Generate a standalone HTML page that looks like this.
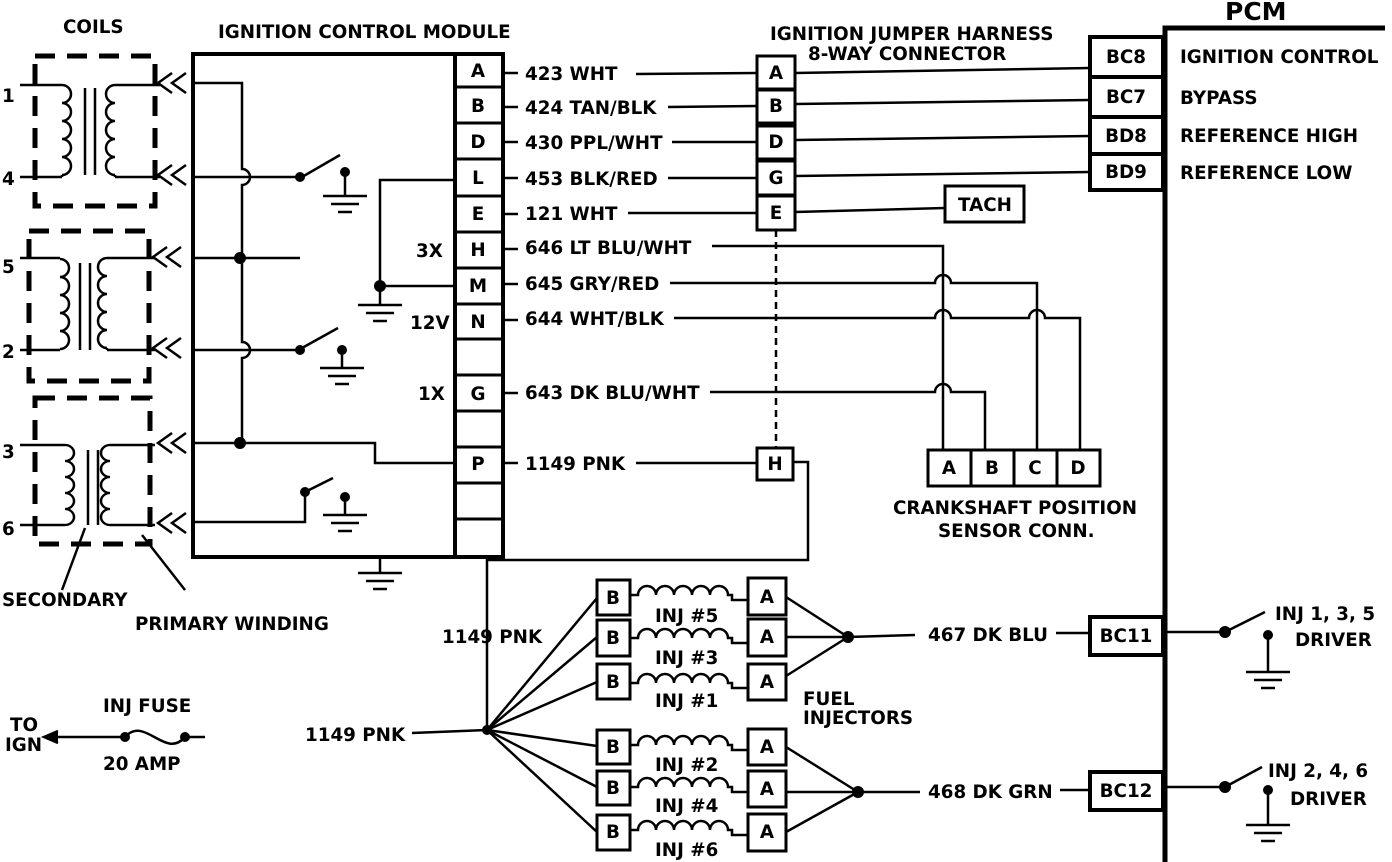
<!DOCTYPE html>
<html><head><meta charset="utf-8"><style>
html,body{margin:0;padding:0;background:#fff}
svg{display:block}
text{font-family:"DejaVu Sans","Liberation Sans",sans-serif;font-weight:bold;font-size:18.3px;fill:#000}
</style></head><body>
<svg width="1392" height="862" viewBox="0 0 1392 862" xmlns="http://www.w3.org/2000/svg">
<defs>
<g id="gnd" stroke="#000" stroke-width="2.5" fill="none"><line x1="-22" y1="0" x2="22" y2="0"/><line x1="-14" y1="8" x2="14" y2="8"/><line x1="-7" y1="16" x2="7" y2="16"/></g>
<g id="chev" stroke="#000" stroke-width="2.5" fill="none"><polyline points="14,-10 0,0 14,10"/><polyline points="28,-10 14,0 28,10"/></g>
<path id="coilL" d="M0,0 a9,9 0 0 1 0,18 a9,9 0 0 1 0,18 a9,9 0 0 1 0,18 a9,9 0 0 1 0,18 a9,9 0 0 1 0,18" fill="none" stroke="#000" stroke-width="2.5"/>
<path id="coilR" d="M0,0 a9,9 0 0 0 0,18 a9,9 0 0 0 0,18 a9,9 0 0 0 0,18 a9,9 0 0 0 0,18 a9,9 0 0 0 0,18" fill="none" stroke="#000" stroke-width="2.5"/>
<path id="inj" d="M0,0 h8 a9,9 0 0 1 18,0 a9,9 0 0 1 18,0 a9,9 0 0 1 18,0 a9,9 0 0 1 18,0 a9,9 0 0 1 18,0 l4,0 v5 h16" fill="none" stroke="#000" stroke-width="2.5"/>
</defs>
<g stroke="#000" fill="none" stroke-width="2.5">
<g stroke-width="5" stroke-dasharray="20,12">
<rect x="35" y="56" width="120" height="150"/>
<rect x="29" y="231" width="120" height="150"/>
<rect x="35" y="398" width="115" height="146"/>
</g>
<line x1="20" y1="85" x2="62" y2="85"/><line x1="20" y1="177" x2="62" y2="177"/>
<use href="#coilL" x="62" y="85"/><line x1="62" y1="175" x2="62" y2="177"/>
<line x1="85" y1="88" x2="85" y2="175"/><line x1="95" y1="88" x2="95" y2="175"/>
<use href="#coilR" x="115" y="85"/><line x1="115" y1="175" x2="115" y2="177"/>
<line x1="115" y1="85" x2="160" y2="85"/><line x1="115" y1="177" x2="160" y2="177"/>
<line x1="20" y1="258" x2="60" y2="258"/><line x1="20" y1="350" x2="60" y2="350"/>
<use href="#coilL" x="60" y="259"/><line x1="60" y1="349" x2="60" y2="350"/>
<line x1="80" y1="263" x2="80" y2="350"/><line x1="90" y1="263" x2="90" y2="350"/>
<use href="#coilR" x="107" y="258"/><line x1="107" y1="348" x2="107" y2="350"/>
<line x1="107" y1="258" x2="155" y2="258"/><line x1="107" y1="350" x2="155" y2="350"/>
<line x1="20" y1="445" x2="65" y2="445"/><line x1="20" y1="525" x2="65" y2="525"/>
<use href="#coilL" transform="translate(65,445) scale(1,0.889)"/>
<line x1="88" y1="450" x2="88" y2="525"/><line x1="98" y1="450" x2="98" y2="525"/>
<use href="#coilR" transform="translate(110,445) scale(1,0.889)"/>
<line x1="110" y1="445" x2="155" y2="445"/><line x1="110" y1="525" x2="155" y2="525"/>
<use href="#chev" x="158" y="83"/><use href="#chev" x="158" y="175"/>
<use href="#chev" x="153" y="257"/><use href="#chev" x="153" y="348"/>
<use href="#chev" x="158" y="443"/><use href="#chev" x="158" y="523"/>
<line x1="85" y1="528" x2="62" y2="590"/><line x1="142" y1="535" x2="185" y2="590"/>
<rect x="193" y="54" width="310" height="503" stroke-width="4"/>
<line x1="455" y1="54" x2="455" y2="557" stroke-width="4"/>
<g stroke-width="3">
<line x1="455" y1="87" x2="503" y2="87"/><line x1="455" y1="123" x2="503" y2="123"/>
<line x1="455" y1="159" x2="503" y2="159"/><line x1="455" y1="196" x2="503" y2="196"/>
<line x1="455" y1="232" x2="503" y2="232"/><line x1="455" y1="268" x2="503" y2="268"/>
<line x1="455" y1="304" x2="503" y2="304"/><line x1="455" y1="339" x2="503" y2="339"/>
<line x1="455" y1="375" x2="503" y2="375"/><line x1="455" y1="411" x2="503" y2="411"/>
<line x1="455" y1="447" x2="503" y2="447"/><line x1="455" y1="483" x2="503" y2="483"/>
<line x1="455" y1="519" x2="503" y2="519"/>
</g>
<line x1="503" y1="73" x2="518" y2="73"/><line x1="503" y1="107" x2="518" y2="107"/>
<line x1="503" y1="142" x2="518" y2="142"/><line x1="503" y1="178" x2="518" y2="178"/>
<line x1="503" y1="214" x2="518" y2="214"/><line x1="503" y1="249" x2="518" y2="249"/>
<line x1="503" y1="284" x2="518" y2="284"/><line x1="503" y1="320" x2="518" y2="320"/>
<line x1="503" y1="393" x2="518" y2="393"/><line x1="503" y1="463" x2="518" y2="463"/>
<path d="M193,83 H242 V169 a8,8 0 0 1 0,16 V342 a8,8 0 0 1 0,16 V443"/>
<line x1="193" y1="177" x2="302" y2="177"/>
<line x1="193" y1="258" x2="300" y2="258"/>
<line x1="193" y1="350" x2="302" y2="350"/>
<path d="M193,443 H375 V463 H455"/>
<path d="M193,522 H305 V490"/>
<path d="M302,177 L340,155"/><path d="M302,348 L338,328"/><path d="M305,492 L333,478"/>
<line x1="345" y1="172" x2="345" y2="196"/><use href="#gnd" x="345" y="196"/>
<line x1="342" y1="350" x2="342" y2="368"/><use href="#gnd" x="342" y="368"/>
<line x1="345" y1="497" x2="345" y2="515"/><use href="#gnd" x="345" y="515"/>
<path d="M455,180 H380 V305"/><line x1="380" y1="286" x2="455" y2="286"/>
<use href="#gnd" x="380" y="305"/>
<line x1="380" y1="557" x2="380" y2="573"/><use href="#gnd" x="380" y="573"/>
<line x1="636" y1="74" x2="757" y2="73"/>
<line x1="668" y1="107" x2="757" y2="106"/>
<line x1="672" y1="142" x2="757" y2="142"/>
<line x1="668" y1="178" x2="757" y2="178"/>
<line x1="628" y1="213" x2="757" y2="213"/>
<g stroke-width="3">
<rect x="757" y="56" width="38" height="33"/><rect x="757" y="90" width="38" height="33"/>
<rect x="757" y="126" width="38" height="33"/><rect x="757" y="161" width="38" height="34"/>
<rect x="757" y="196" width="38" height="34"/>
<rect x="757" y="448" width="36" height="32"/>
</g>
<line x1="776" y1="230" x2="776" y2="448" stroke-dasharray="7,5"/>
<line x1="795" y1="73" x2="1090" y2="68"/>
<line x1="795" y1="104" x2="1090" y2="100"/>
<line x1="795" y1="140" x2="1090" y2="136"/>
<line x1="795" y1="176" x2="1090" y2="172"/>
<line x1="795" y1="212" x2="945" y2="208"/>
<rect x="945" y="186" width="79" height="36" stroke-width="3"/>
<path d="M1165,862 V28 H1385" stroke-width="5"/>
<g stroke-width="4">
<rect x="1090" y="37" width="73" height="153"/>
<line x1="1090" y1="77" x2="1163" y2="77"/><line x1="1090" y1="117" x2="1163" y2="117"/><line x1="1090" y1="154" x2="1163" y2="154"/>
<rect x="1090" y="617" width="73" height="38"/>
<rect x="1090" y="772" width="73" height="38"/>
</g>
<path d="M712,246 H943 V450"/>
<path d="M670,283 H935 a8,8 0 0 1 16,0 H1037 V450"/>
<path d="M674,318 H935 a8,8 0 0 1 16,0 H1029 a8,8 0 0 1 16,0 H1080 V450"/>
<path d="M710,392 H935 a8,8 0 0 1 16,0 H985 V450"/>
<g stroke-width="3">
<rect x="928" y="450" width="43" height="36"/><rect x="971" y="450" width="43" height="36"/>
<rect x="1014" y="450" width="43" height="36"/><rect x="1057" y="450" width="43" height="36"/>
</g>
<line x1="636" y1="463" x2="757" y2="463"/>
<path d="M793,462 H808 V560 H487 V730"/>
<g stroke-width="3">
<rect x="597" y="580" width="33" height="35"/><rect x="597" y="620" width="33" height="36"/><rect x="597" y="664" width="33" height="35"/>
<rect x="597" y="730" width="33" height="34"/><rect x="597" y="771" width="33" height="34"/><rect x="597" y="815" width="33" height="35"/>
<rect x="748" y="578" width="38" height="37"/><rect x="748" y="619" width="38" height="37"/><rect x="748" y="664" width="38" height="36"/>
<rect x="748" y="729" width="38" height="36"/><rect x="748" y="771" width="38" height="36"/><rect x="748" y="814" width="38" height="37"/>
</g>
<use href="#inj" x="630" y="595"/><use href="#inj" x="630" y="638"/><use href="#inj" x="630" y="683"/>
<use href="#inj" x="630" y="745"/><use href="#inj" x="630" y="787"/><use href="#inj" x="630" y="830"/>
<line x1="487" y1="730" x2="597" y2="598"/><line x1="487" y1="730" x2="597" y2="637"/>
<line x1="487" y1="730" x2="597" y2="682"/><line x1="487" y1="730" x2="597" y2="746"/>
<line x1="487" y1="730" x2="597" y2="787"/><line x1="487" y1="730" x2="597" y2="832"/>
<line x1="786" y1="597" x2="848" y2="637"/><line x1="786" y1="637" x2="848" y2="637"/><line x1="786" y1="676" x2="848" y2="637"/>
<line x1="848" y1="637" x2="915" y2="635"/><line x1="1056" y1="633" x2="1090" y2="633"/>
<line x1="786" y1="747" x2="858" y2="792"/><line x1="786" y1="792" x2="858" y2="792"/><line x1="786" y1="832" x2="858" y2="792"/>
<line x1="858" y1="792" x2="920" y2="792"/><line x1="1060" y1="790" x2="1090" y2="790"/>
<line x1="412" y1="733" x2="487" y2="730"/>
<line x1="50" y1="737" x2="125" y2="737"/>
<path d="M125,737 C145,715 165,760 185,737"/>
<line x1="185" y1="737" x2="205" y2="737"/>
<polyline points="58,731 44,737 58,743" fill="#000"/>
<line x1="1165" y1="632" x2="1225" y2="632"/><path d="M1225,632 L1265,612"/>
<line x1="1268" y1="635" x2="1268" y2="672"/><use href="#gnd" x="1268" y="672"/>
<line x1="1165" y1="787" x2="1225" y2="787"/><path d="M1225,787 L1262,767"/>
<line x1="1268" y1="790" x2="1268" y2="825"/><use href="#gnd" x="1268" y="825"/>
</g>
<g fill="#000">
<circle cx="300" cy="177" r="5"/><circle cx="345" cy="172" r="5"/>
<circle cx="240" cy="258" r="6"/><circle cx="300" cy="350" r="5"/><circle cx="342" cy="350" r="5"/>
<circle cx="240" cy="443" r="6"/><circle cx="305" cy="492" r="5"/><circle cx="345" cy="497" r="5"/>
<circle cx="380" cy="286" r="6"/>
<circle cx="487" cy="730" r="5"/><circle cx="848" cy="637" r="6"/><circle cx="858" cy="792" r="6"/>
<circle cx="125" cy="737" r="5"/><circle cx="185" cy="737" r="5"/>
<circle cx="1225" cy="632" r="6"/><circle cx="1268" cy="635" r="5"/>
<circle cx="1225" cy="787" r="6"/><circle cx="1268" cy="790" r="5"/>
</g>
<text x="63" y="33">COILS</text>
<text x="218" y="38">IGNITION CONTROL MODULE</text>
<text x="770" y="40">IGNITION JUMPER HARNESS</text>
<text x="808" y="60">8-WAY CONNECTOR</text>
<text x="1225" y="20" style="font-size:25px">PCM</text>
<text x="2" y="102">1</text><text x="2" y="185">4</text><text x="2" y="273">5</text><text x="2" y="358">2</text><text x="2" y="458">3</text><text x="2" y="535">6</text>
<g text-anchor="middle">
<text x="478" y="77">A</text><text x="478" y="112">B</text><text x="478" y="148">D</text><text x="478" y="184">L</text>
<text x="478" y="220">E</text><text x="478" y="256">H</text><text x="478" y="292">M</text><text x="478" y="328">N</text>
<text x="478" y="400">G</text><text x="478" y="470">P</text>
<text x="776" y="79">A</text><text x="776" y="112">B</text><text x="776" y="148">D</text><text x="776" y="184">G</text><text x="776" y="219">E</text><text x="775" y="470">H</text>
<text x="1126" y="63">BC8</text><text x="1126" y="103">BC7</text><text x="1126" y="142">BD8</text><text x="1126" y="178">BD9</text>
<text x="1126" y="642">BC11</text><text x="1126" y="797">BC12</text>
<text x="985" y="211">TACH</text>
<text x="949" y="474">A</text><text x="992" y="474">B</text><text x="1035" y="474">C</text><text x="1078" y="474">D</text>
<text x="613" y="604">B</text><text x="613" y="644">B</text><text x="613" y="688">B</text><text x="613" y="753">B</text><text x="613" y="794">B</text><text x="613" y="838">B</text>
<text x="767" y="603">A</text><text x="767" y="643">A</text><text x="767" y="688">A</text><text x="767" y="753">A</text><text x="767" y="795">A</text><text x="767" y="838">A</text>
</g>
<text x="416" y="257">3X</text><text x="410" y="329">12V</text><text x="418" y="400">1X</text>
<text x="525" y="80">423 WHT</text><text x="525" y="114">424 TAN/BLK</text><text x="525" y="149">430 PPL/WHT</text>
<text x="525" y="185">453 BLK/RED</text><text x="525" y="220">121 WHT</text><text x="525" y="254">646 LT BLU/WHT</text>
<text x="525" y="290">645 GRY/RED</text><text x="525" y="325">644 WHT/BLK</text><text x="525" y="399">643 DK BLU/WHT</text>
<text x="525" y="470">1149 PNK</text>
<text x="1180" y="63">IGNITION CONTROL</text><text x="1180" y="104">BYPASS</text>
<text x="1180" y="142">REFERENCE HIGH</text><text x="1180" y="179">REFERENCE LOW</text>
<text x="893" y="514">CRANKSHAFT POSITION</text><text x="938" y="537">SENSOR CONN.</text>
<text x="2" y="606">SECONDARY</text><text x="135" y="630">PRIMARY WINDING</text>
<text x="442" y="643">1149 PNK</text><text x="305" y="741">1149 PNK</text>
<text x="103" y="712">INJ FUSE</text><text x="103" y="770">20  AMP</text>
<text x="10" y="731">TO</text><text x="5" y="751">IGN</text>
<text x="655" y="622">INJ #5</text><text x="655" y="664">INJ #3</text><text x="655" y="707">INJ #1</text>
<text x="655" y="771">INJ #2</text><text x="655" y="812">INJ #4</text><text x="655" y="856">INJ #6</text>
<text x="803" y="705">FUEL</text><text x="803" y="724">INJECTORS</text>
<text x="928" y="641">467 DK BLU</text><text x="928" y="798">468 DK GRN</text>
<text x="1275" y="620">INJ 1, 3, 5</text><text x="1295" y="646">DRIVER</text>
<text x="1268" y="777">INJ 2, 4, 6</text><text x="1290" y="805">DRIVER</text>
</svg>
</body></html>
